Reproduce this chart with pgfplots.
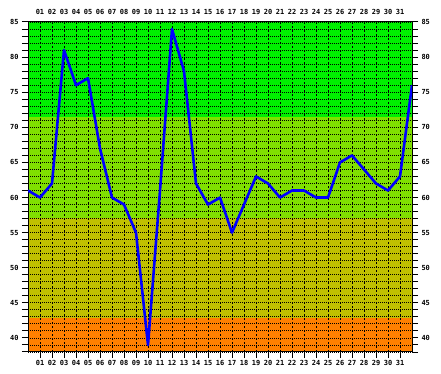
\documentclass[border=0pt]{standalone}
\usepackage{fontspec}
\setmainfont{DejaVu Sans Mono}
\usepackage{pgfplots}
\pgfplotsset{compat=1.18}
\definecolor{bandA}{RGB}{0,240,0}
\definecolor{bandB}{RGB}{128,224,0}
\definecolor{bandC}{RGB}{192,192,0}
\definecolor{bandD}{RGB}{255,128,0}
\pgfplotsset{
  common/.style={
    scale only axis, width=384bp, height=330bp,
    xmin=0, xmax=32, ymin=38, ymax=85,
    at={(28bp,22bp)}, anchor=south west,
    tick align=outside,
    major tick length=6bp, minor tick length=6bp,
    tick style={black, line width=1bp},
    ticklabel style={font=\bfseries\fontsize{7}{7}\selectfont},
  }
}
\begin{document}
\begin{tikzpicture}
\begin{axis}[common,
  set layers,
  xtick={1,...,31},
  xticklabels={01,02,03,04,05,06,07,08,09,10,11,12,13,14,15,16,17,18,19,20,21,22,23,24,25,26,27,28,29,30,31},
  xtick pos=bottom, xticklabel pos=bottom,
  ytick={40,45,...,85},
  yticklabels={40,45,50,55,60,65,70,75,80,85},
  minor ytick={38,...,85},
  ytick pos=left, yticklabel pos=left,
  xmajorgrids, ymajorgrids, yminorgrids,
  x grid style={black, line width=1bp, dash pattern=on 2bp off 2bp},
  y grid style={black, line width=0.9bp, dash pattern=on 1bp off 1bp},
  axis line style={black, line width=1bp},
  xticklabel style={yshift=1bp},
]
\addplot[on layer=axis background, draw=none, fill=bandA] coordinates {(0,71.43) (32,71.43) (32,85) (0,85)} -- cycle;
\addplot[on layer=axis background, draw=none, fill=bandB] coordinates {(0,57.14) (32,57.14) (32,71.43) (0,71.43)} -- cycle;
\addplot[on layer=axis background, draw=none, fill=bandC] coordinates {(0,42.86) (32,42.86) (32,57.14) (0,57.14)} -- cycle;
\addplot[on layer=axis background, draw=none, fill=bandD] coordinates {(0,38) (32,38) (32,42.86) (0,42.86)} -- cycle;
\addplot[blue, line width=2.6bp, line join=round] coordinates {
(0,61) (1,60) (2,62) (3,81) (4,76) (5,77) (6,67) (7,60) (8,59) (9,55)
(10,39) (11,61) (12,84) (13,78) (14,62) (15,59) (16,60) (17,55) (18,59) (19,63)
(20,62) (21,60) (22,61) (23,61) (24,60) (25,60) (26,65) (27,66) (28,64) (29,62)
(30,61) (31,63) (32,76)};
\end{axis}
% top labels
\begin{axis}[common,
  axis line style={draw=none},
  xtick={1,...,31},
  xticklabels={01,02,03,04,05,06,07,08,09,10,11,12,13,14,15,16,17,18,19,20,21,22,23,24,25,26,27,28,29,30,31},
  xtick pos=top, xticklabel pos=top,
  major tick length=0pt,
  tick style={draw=none},
  ytick=\empty,
  xticklabel style={yshift=3.5bp},
]
\addplot[draw=none] coordinates {(0,38) (32,85)};
\end{axis}
% right ticks and labels
\begin{axis}[common,
  axis line style={draw=none},
  xtick=\empty,
  ytick={40,45,...,85},
  yticklabels={40,45,50,55,60,65,70,75,80,85},
  minor ytick={38,...,85},
  ytick pos=right, yticklabel pos=right,
]
\addplot[draw=none] coordinates {(0,38) (32,85)};
\end{axis}
\path (0,0) rectangle (441bp,374bp);
\end{tikzpicture}
\end{document}
